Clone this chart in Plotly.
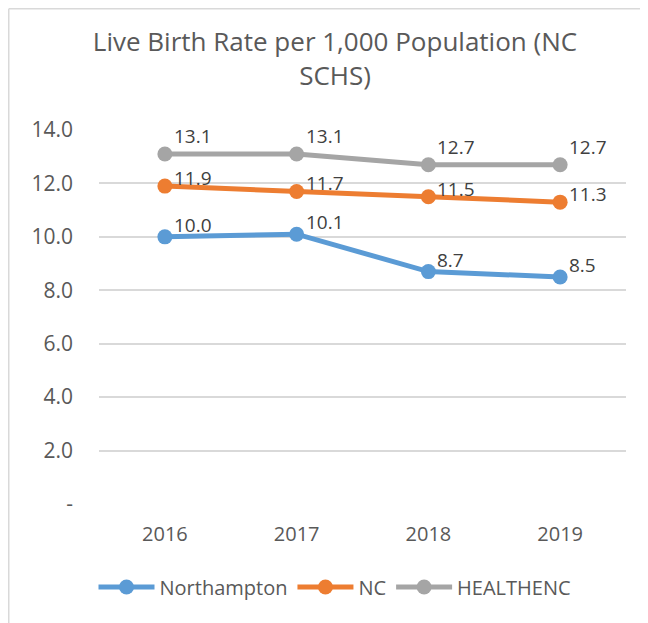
import plotly.graph_objects as go

years = ["2016", "2017", "2018", "2019"]
northampton = [10.0, 10.1, 8.7, 8.5]
nc = [11.9, 11.7, 11.5, 11.3]
healthenc = [13.1, 13.1, 12.7, 12.7]

series = [
    ("Northampton", northampton, "#5B9BD5", 12),
    ("NC", nc, "#ED7D31", 8),
    ("HEALTHENC", healthenc, "#A5A5A5", 18),
]

FONT = "Open Sans"
TXT = "#595959"

fig = go.Figure()
annotations = []
for name, vals, col, ysh in series:
    fig.add_trace(go.Scatter(
        x=years, y=vals, name=name, mode="lines+markers",
        line=dict(color=col, width=5),
        marker=dict(color=col, size=15),
    ))
    for i, v in enumerate(vals):
        annotations.append(dict(
            x=i, y=v, xref="x", yref="y", text=f"{v:.1f}", showarrow=False,
            xanchor="left", yanchor="middle", xshift=7, yshift=ysh,
            font=dict(family=FONT, size=19, color="#404040"),
        ))

# page body has an 8px margin, so the figure is laid out 8px in from the window edge
L, R, T, B = 91, 22, 122, 119
W, H = 640, 615
pw, ph = W - L - R, H - T - B
def px(xp):
    return (xp - L) / pw
def py(yp):
    return (H - B - yp) / ph

fig.update_layout(
    width=W, height=H,
    margin=dict(l=L, r=R, t=T, b=B),
    paper_bgcolor="white", plot_bgcolor="white",
    font=dict(family=FONT, color=TXT),
    title=dict(text="Live Birth Rate per 1,000 Population (NC<br>SCHS)",
               xref="container", x=327 / W, xanchor="center",
               yref="container", y=1 - 43 / H, yanchor="middle",
               font=dict(family=FONT, size=26, color=TXT)),
    xaxis=dict(type="category", range=[-0.5, 3.5], showgrid=False, showline=False, ticks="",
               tickfont=dict(size=20, color=TXT), ticklabelstandoff=16),
    yaxis=dict(range=[0, 14], showgrid=True, gridcolor="#D9D9D9", gridwidth=1.5,
               zeroline=False, showline=False, ticks="",
               tickvals=[0, 2, 4, 6, 8, 10, 12, 14],
               ticktext=["-", "2.0", "4.0", "6.0", "8.0", "10.0", "12.0", "14.0"],
               tickfont=dict(size=21, color=TXT), ticklabelstandoff=25),
    showlegend=True,
    legend=dict(orientation="h", x=px(327), xanchor="center", y=py(579), yanchor="middle",
                font=dict(size=20, color=TXT), tracegroupgap=0, itemwidth=56),
    annotations=annotations,
    shapes=[
        dict(type="line", xref="paper", yref="paper", x0=px(0.75), x1=px(W + 5), y0=py(0.75), y1=py(0.75),
             line=dict(color="#D9D9D9", width=1.5)),
        dict(type="line", xref="paper", yref="paper", x0=px(0.75), x1=px(0.75), y0=py(0.75), y1=py(H + 5),
             line=dict(color="#D9D9D9", width=1.5)),
    ],
)

fig.write_html("out.html")
